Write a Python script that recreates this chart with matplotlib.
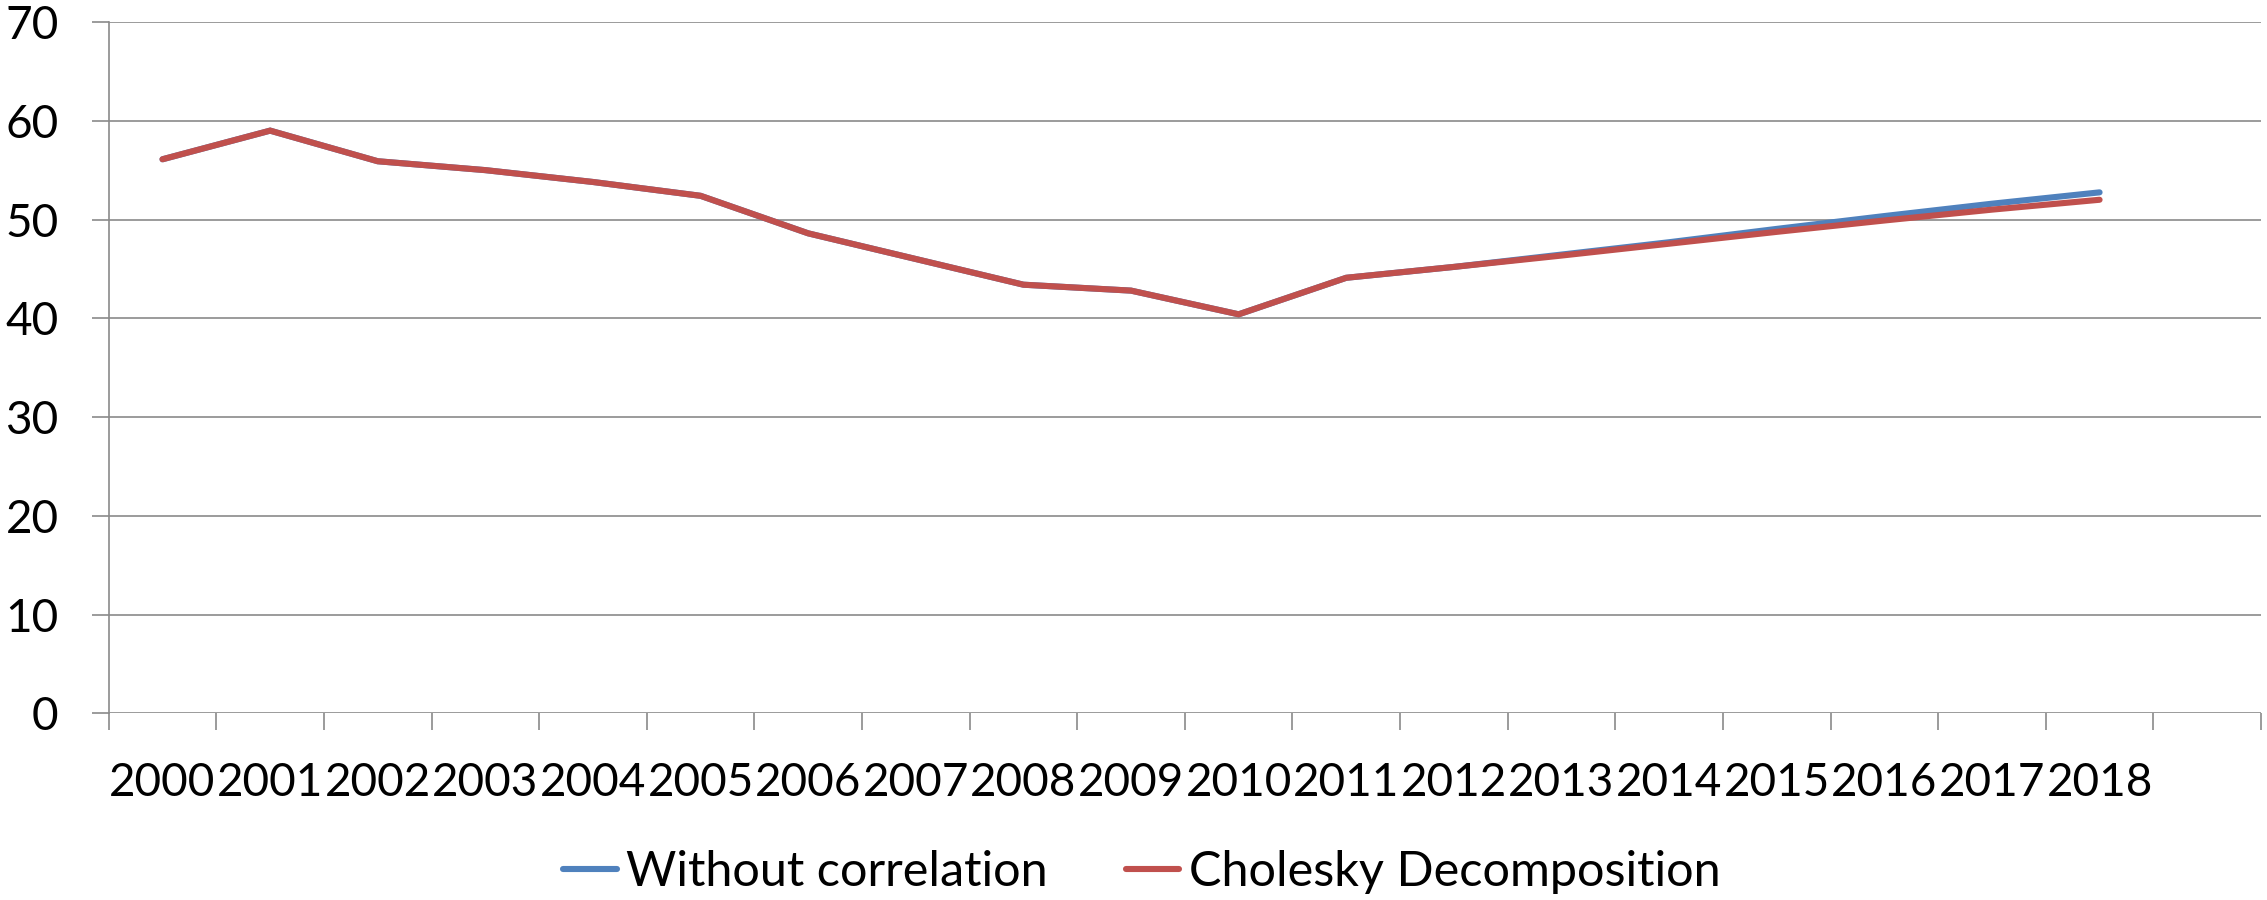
import matplotlib.pyplot as plt
import numpy as np

# Category labels (last slot of the axis stays empty)
years = ['2000', '2001', '2002', '2003', '2004', '2005', '2006', '2007', '2008', '2009',
         '2010', '2011', '2012', '2013', '2014', '2015', '2016', '2017', '2018', '']

# Series values per year
without_correlation = [56.1, 59.0, 55.9, 55.0, 53.8, 52.4, 48.6, 46.0, 43.4, 42.8,
                       40.4, 44.1, 45.2, 46.45, 47.7, 49.05, 50.35, 51.6, 52.75]
cholesky = [56.1, 59.0, 55.9, 55.0, 53.8, 52.4, 48.6, 46.0, 43.4, 42.8,
            40.4, 44.1, 45.2, 46.35, 47.55, 48.75, 49.9, 51.0, 52.0]

plt.rcParams['font.family'] = ['Lato', 'DejaVu Sans']
grey = '#8a8a8a'

fig = plt.figure(figsize=(22.67, 9), dpi=100)
ax = fig.add_axes([0.04795, 0.20744, 0.9494, 0.76812])

x = np.arange(len(years))
line1, = ax.plot(x[:len(without_correlation)], without_correlation, color='#4f81bd',
                 lw=4.4, solid_capstyle='round', solid_joinstyle='miter',
                 label='Without correlation')
line2, = ax.plot(x[:len(cholesky)], cholesky, color='#c0504d',
                 lw=4.4, solid_capstyle='round', solid_joinstyle='miter',
                 label='Cholesky Decomposition')

# Axis ranges and grid
ax.set_xlim(-0.5, len(years) - 0.5)
ax.set_ylim(0, 70)
ax.set_yticks(range(0, 71, 10))
ax.yaxis.grid(True, color=grey, lw=1.2)
ax.set_axisbelow(True)

for side in ['top', 'right', 'bottom']:
    ax.spines[side].set_visible(False)
ax.spines['left'].set_color(grey)
ax.spines['left'].set_linewidth(1.2)

# Category labels in the middle, tick marks between categories
ax.set_xticks(x)
ax.set_xticklabels(years)
ax.set_xticks(np.arange(-0.5, len(years)), minor=True)
ax.tick_params(axis='x', which='major', length=0, pad=35, labelsize=33)
ax.tick_params(axis='x', which='minor', length=12, width=1.2, color=grey)
ax.tick_params(axis='y', length=12, width=1.2, color=grey, pad=24, labelsize=33)

fig.legend(handles=[line1, line2], loc='center', bbox_to_anchor=(1142 / 2267, 1 - 872 / 900),
           ncol=2, frameon=False, fontsize=35, handlelength=1.1,
           handletextpad=0.2, columnspacing=1.6)

plt.savefig('out.png', dpi=100)
